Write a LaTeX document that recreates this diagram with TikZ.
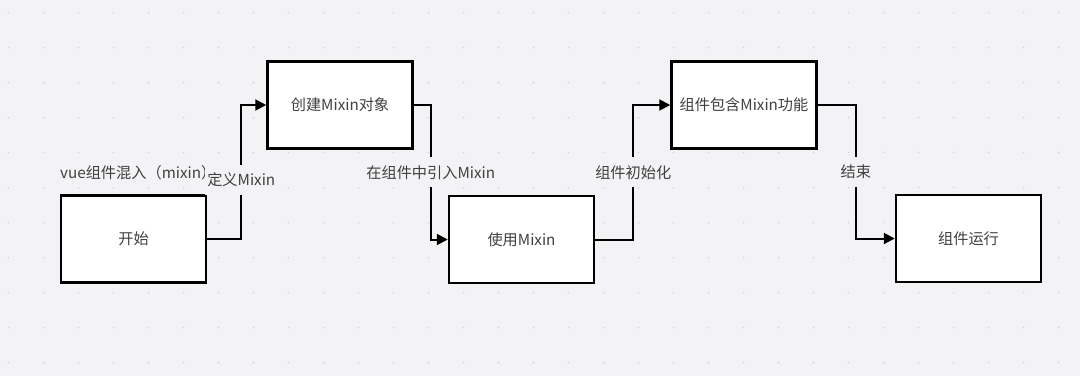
\documentclass[tikz,border=0pt]{standalone}
\usepackage{fontspec}
\setmainfont{Noto Sans CJK SC}
\usetikzlibrary{arrows.meta,positioning}
\definecolor{bggray}{HTML}{F3F3F5}
\definecolor{dotgray}{HTML}{D6D6DA}
\definecolor{txtgray}{HTML}{404040}

\begin{document}
\begin{tikzpicture}[
  x=1pt,y=1pt,
  box/.style={draw,line width=2.5pt,fill=white,minimum width=145pt,minimum height=87pt,text=txtgray,font=\fontsize{15.2}{18}\selectfont},
  lbl/.style={fill=bggray,text=txtgray,inner xsep=2pt,inner ysep=8pt,font=\fontsize{15.2}{18}\selectfont},
  arr/.style={-{Triangle[length=11pt,width=11pt]},line width=2pt}
]
% background and dot grid
\fill[bggray] (0,0) rectangle (1080,-376);
\useasboundingbox (0,0) rectangle (1080,-376);
\foreach \i in {0,...,30}
  \foreach \j in {0,...,10}
    \fill[dotgray] (8.5+35*\i,-12.5-35*\j) circle (1);

\node[lbl,fill=none,inner sep=0pt,anchor=west] (title) at (60,-172.7) {vue组件混入（mixin）};

\node[box] (start) at (133.5,-239) {开始};
\node[box,right=59pt of start,yshift=134pt] (create) {创建Mixin对象};
\node[box,right=34pt of create,yshift=-134.5pt] (use) {使用Mixin};
\node[box,right=75pt of use,yshift=134.5pt] (contain) {组件包含Mixin功能};
\node[box,right=77pt of contain,yshift=-133.5pt] (run) {组件运行};

\draw[arr] (start.east) -- ++(34pt,0) |- node[lbl,pos=.22]{定义Mixin} (create.west);
\draw[arr] (create.east) -- ++(17pt,0) |- node[lbl,pos=.25]{在组件中引入Mixin} (use.west);
\draw[arr] (use.east) -- ++(38pt,0) |- node[lbl,pos=.25]{组件初始化} (contain.west);
\draw[arr] (contain.east) -- ++(38pt,0) |- node[lbl,pos=.25]{结束} (run.west);
\end{tikzpicture}
\end{document}
